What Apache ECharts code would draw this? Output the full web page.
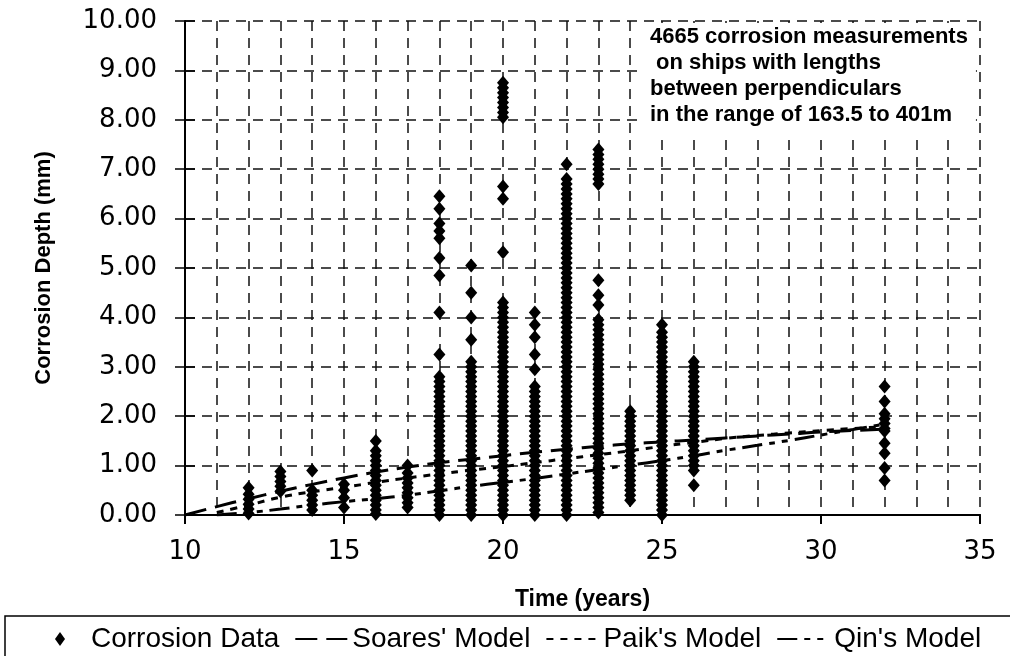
<!DOCTYPE html>
<html>
<head>
<meta charset="utf-8">
<script src="https://cdn.jsdelivr.net/npm/echarts@6/dist/echarts.min.js"></script>
<style>
html,body{margin:0;padding:0;background:#fff;}
#chart{width:1010px;height:656px;}
</style>
</head>
<body>
<div id="chart"></div>
<script>
// ---- Data ----
const measurementYears = [12, 13, 14, 15, 16, 17, 18, 19, 20, 21, 22, 23, 24, 25, 26, 32];
const depth12 = [0.55, 0.42, 0.32, 0.22, 0.12, 0.03];
const depth13 = [0.88, 0.78, 0.68, 0.58, 0.48];
const depth14 = [0.9, 0.5, 0.4, 0.3, 0.2, 0.1];
const depth15 = [0.62, 0.5, 0.35, 0.15];
const depth16 = [1.5, 1.3, 1.2, 1.1, 1.0, 0.9, 0.8, 0.7, 0.6, 0.5, 0.4, 0.3, 0.2, 0.1, 0.02];
const depth17 = [1.0, 0.85, 0.75, 0.65, 0.55, 0.45, 0.35, 0.25, 0.15];
const depth18 = [6.45, 6.2, 5.9, 5.75, 5.6, 5.2, 4.85, 4.1, 3.25, 2.8, 2.7, 2.6, 2.5, 2.4, 2.3, 2.2, 2.1, 2.0, 1.9, 1.8, 1.7, 1.6, 1.5, 1.4, 1.3, 1.2, 1.1, 1.0, 0.9, 0.8, 0.7, 0.6, 0.5, 0.4, 0.3, 0.2, 0.1, 0.0];
const depth19 = [5.05, 4.5, 4.0, 3.55, 3.1, 3.0, 2.9, 2.8, 2.7, 2.6, 2.5, 2.4, 2.3, 2.2, 2.1, 2.0, 1.9, 1.8, 1.7, 1.6, 1.5, 1.4, 1.3, 1.2, 1.1, 1.0, 0.9, 0.8, 0.7, 0.6, 0.5, 0.4, 0.3, 0.2, 0.1, 0.0];
const depth20 = [8.75, 8.65, 8.55, 8.45, 8.35, 8.25, 8.15, 8.05, 6.65, 6.4, 5.32, 4.3, 4.2, 4.1, 4.0, 3.9, 3.8, 3.7, 3.6, 3.5, 3.4, 3.3, 3.2, 3.1, 3.0, 2.9, 2.8, 2.7, 2.6, 2.5, 2.4, 2.3, 2.2, 2.1, 2.0, 1.9, 1.8, 1.7, 1.6, 1.5, 1.4, 1.3, 1.2, 1.1, 1.0, 0.9, 0.8, 0.7, 0.6, 0.5, 0.4, 0.3, 0.2, 0.1, 0.0];
const depth21 = [4.1, 3.85, 3.6, 3.25, 2.95, 2.6, 2.5, 2.4, 2.3, 2.2, 2.1, 2.0, 1.9, 1.8, 1.7, 1.6, 1.5, 1.4, 1.3, 1.2, 1.1, 1.0, 0.9, 0.8, 0.7, 0.6, 0.5, 0.4, 0.3, 0.2, 0.1, 0.0];
const depth22 = [7.1, 6.8, 6.7, 6.6, 6.5, 6.4, 6.3, 6.2, 6.1, 6.0, 5.9, 5.8, 5.7, 5.6, 5.5, 5.4, 5.3, 5.2, 5.1, 5.0, 4.9, 4.8, 4.7, 4.6, 4.5, 4.4, 4.3, 4.2, 4.1, 4.0, 3.9, 3.8, 3.7, 3.6, 3.5, 3.4, 3.3, 3.2, 3.1, 3.0, 2.9, 2.8, 2.7, 2.6, 2.5, 2.4, 2.3, 2.2, 2.1, 2.0, 1.9, 1.8, 1.7, 1.6, 1.5, 1.4, 1.3, 1.2, 1.1, 1.0, 0.9, 0.8, 0.7, 0.6, 0.5, 0.4, 0.3, 0.2, 0.1, 0.0];
const depth23 = [7.4, 7.3, 7.2, 7.1, 7.0, 6.9, 6.8, 6.7, 4.75, 4.45, 4.25, 3.95, 3.85, 3.75, 3.65, 3.55, 3.45, 3.35, 3.25, 3.15, 3.05, 2.95, 2.85, 2.75, 2.65, 2.55, 2.45, 2.35, 2.25, 2.15, 2.05, 1.95, 1.85, 1.75, 1.65, 1.55, 1.45, 1.35, 1.25, 1.15, 1.05, 0.95, 0.85, 0.75, 0.65, 0.55, 0.45, 0.35, 0.25, 0.15, 0.05];
const depth24 = [2.1, 2.0, 1.9, 1.8, 1.7, 1.6, 1.5, 1.4, 1.3, 1.2, 1.1, 1.0, 0.9, 0.8, 0.7, 0.6, 0.5, 0.4, 0.3];
const depth25 = [3.85, 3.7, 3.6, 3.5, 3.4, 3.3, 3.2, 3.1, 3.0, 2.9, 2.8, 2.7, 2.6, 2.5, 2.4, 2.3, 2.2, 2.1, 2.0, 1.9, 1.8, 1.7, 1.6, 1.5, 1.4, 1.3, 1.2, 1.1, 1.0, 0.9, 0.8, 0.7, 0.6, 0.5, 0.4, 0.3, 0.2, 0.1, 0.0];
const depth26 = [3.1, 3.0, 2.9, 2.8, 2.7, 2.6, 2.5, 2.4, 2.3, 2.2, 2.1, 2.0, 1.9, 1.8, 1.7, 1.6, 1.5, 1.4, 1.3, 1.2, 1.1, 1.0, 0.9, 0.6];
const depth32 = [2.6, 2.3, 2.05, 1.95, 1.85, 1.75, 1.7, 1.45, 1.25, 0.95, 0.7];
const depthColumns = [depth12, depth13, depth14, depth15, depth16, depth17, depth18, depth19, depth20, depth21, depth22, depth23, depth24, depth25, depth26, depth32];

const modelYears = [10, 11, 12, 13, 14, 15, 16, 17, 18, 19, 20, 21, 22, 23, 24, 25, 26, 27, 28, 29, 30, 31, 32];
const soaresModel = [0, 0.17, 0.33, 0.48, 0.62, 0.75, 0.87, 0.97, 1.06, 1.13, 1.2, 1.27, 1.33, 1.39, 1.44, 1.48, 1.52, 1.56, 1.6, 1.64, 1.68, 1.71, 1.74];
const paikModel   = [null, 0.05, 0.2, 0.36, 0.47, 0.56, 0.66, 0.75, 0.83, 0.91, 0.98, 1.06, 1.14, 1.22, 1.3, 1.39, 1.47, 1.55, 1.61, 1.66, 1.71, 1.75, 1.79];
const qinModel    = [null, 0, 0.05, 0.12, 0.2, 0.27, 0.33, 0.4, 0.49, 0.58, 0.66, 0.74, 0.83, 0.92, 1.01, 1.1, 1.2, 1.31, 1.41, 1.51, 1.62, 1.73, 1.84];

const xTicks = [10, 15, 20, 25, 30, 35];
const yTickStep = 1;
const annotationLines = ['4665 corrosion measurements', ' on ships with lengths', 'between perpendiculars', 'in the range of 163.5 to 401m'];

// ---- Build series data ----
const scatterData = [];
measurementYears.forEach((yr, i) => depthColumns[i].forEach(v => scatterData.push([yr, v])));
const toPairs = arr => modelYears.map((t, i) => [t, arr[i]]).filter(p => p[1] !== null);

const chart = echarts.init(document.getElementById('chart'));
const gridDash = [10, 7];
const tickFont = { fontFamily: 'DejaVu Sans', fontSize: 26, color: '#000' };
const hiddenSymbol = { color: 'rgba(0,0,0,0)', borderWidth: 0, opacity: 0 };

chart.setOption({
  animation: false,
  backgroundColor: '#fff',
  grid: { left: 185, top: 21, right: 30, bottom: 141, containLabel: false },
  title: {
    text: annotationLines.join('\n'),
    left: 643, top: 23,
    padding: [1, 8, 6, 7],
    backgroundColor: '#fff',
    textStyle: { fontFamily: 'Liberation Sans', fontWeight: 'bold', fontSize: 22, lineHeight: 26, color: '#000' }
  },
  xAxis: {
    type: 'value', min: xTicks[0], max: xTicks[xTicks.length - 1], interval: 5,
    name: 'Time (years)', nameLocation: 'middle', nameGap: 73,
    nameTextStyle: { fontFamily: 'Liberation Sans', fontWeight: 'bold', fontSize: 23, color: '#000' },
    axisLine: { show: true, onZero: false, lineStyle: { color: '#000', width: 2 } },
    axisTick: { show: true, length: 9, lineStyle: { color: '#000', width: 2 } },
    axisLabel: Object.assign({ margin: 24 }, tickFont),
    splitLine: { show: true, lineStyle: { color: '#111', width: 1.5, type: gridDash } },
    minorTick: { show: true, splitNumber: 5, length: 0, lineStyle: { width: 0 } },
    minorSplitLine: { show: true, lineStyle: { color: '#111', width: 1.5, type: gridDash } }
  },
  yAxis: [{
    type: 'value', min: 0, max: 10, interval: yTickStep, position: 'left',
    name: 'Corrosion Depth (mm)', nameLocation: 'middle', nameGap: 130,
    nameTextStyle: { fontFamily: 'Liberation Sans', fontWeight: 'bold', fontSize: 22, color: '#000' },
    axisLine: { show: true, onZero: false, lineStyle: { color: '#000', width: 2 } },
    axisTick: { show: true, length: 10, lineStyle: { color: '#000', width: 1.5 } },
    axisLabel: Object.assign({ margin: 28, formatter: v => v.toFixed(2) }, tickFont),
    splitLine: { show: true, lineStyle: { color: '#111', width: 1.5, type: gridDash } }
  }, {
    type: 'value', min: 0, max: 10, interval: yTickStep, position: 'left',
    axisLine: { show: false },
    axisTick: { show: true, inside: true, length: 10, lineStyle: { color: '#000', width: 1.5 } },
    axisLabel: { show: false },
    splitLine: { show: false }
  }],
  legend: {
    left: 55, top: 625, width: 955, padding: 0,
    itemWidth: 52, itemHeight: 14, itemGap: 15,
    textStyle: { fontFamily: 'Liberation Sans', fontSize: 28, color: '#000' },
    data: [
      { name: 'Corrosion Data', icon: 'path://M5 0 L10 7 L5 14 L0 7 Z' },
      { name: "Soares' Model", itemStyle: hiddenSymbol },
      { name: "Paik's Model", itemStyle: hiddenSymbol },
      { name: "Qin's Model", itemStyle: hiddenSymbol }
    ]
  },
  graphic: [{
    type: 'rect', silent: true, z: -1,
    shape: { x: 5, y: 616, width: 1010, height: 60 },
    style: { fill: '#fff', stroke: '#000', lineWidth: 1.5 }
  }],
  series: [
    {
      name: 'Corrosion Data', type: 'scatter', data: scatterData,
      symbol: 'diamond', symbolSize: [12, 14],
      itemStyle: { color: '#000', opacity: 1 }, z: 3
    },
    {
      name: "Soares' Model", type: 'line', data: toPairs(soaresModel), smooth: true,
      symbol: 'none', showSymbol: false,
      lineStyle: { color: '#000', width: 3, type: [22, 9] }, itemStyle: { color: '#000' }, z: 4
    },
    {
      name: "Paik's Model", type: 'line', data: toPairs(paikModel), smooth: true,
      symbol: 'none', showSymbol: false,
      lineStyle: { color: '#000', width: 3, type: [7, 7] }, itemStyle: { color: '#000' }, z: 4
    },
    {
      name: "Qin's Model", type: 'line', data: toPairs(qinModel), smooth: true,
      symbol: 'none', showSymbol: false,
      lineStyle: { color: '#000', width: 3, type: [20, 7, 6, 7, 6, 7] }, itemStyle: { color: '#000' }, z: 4
    }
  ]
});
</script>
</body>
</html>
